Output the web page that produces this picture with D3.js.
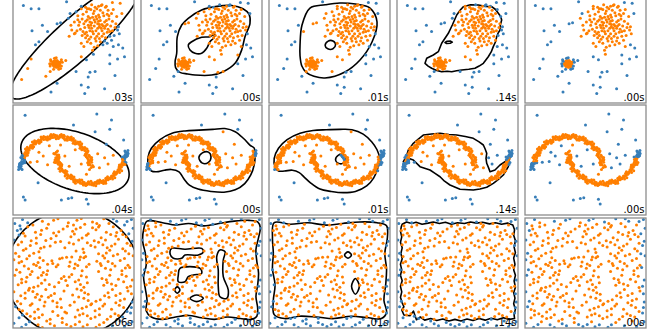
<!DOCTYPE html>
<html>
<head>
<meta charset="utf-8">
<script src="https://cdn.jsdelivr.net/npm/d3@7"></script>
<style>
  body { margin: 0; background: #fff; }
  svg { display: block; font-family: "DejaVu Sans", sans-serif; }
</style>
</head>
<body>
<svg id="chart" width="660" height="330"></svg>
<script>
// columns (titles are cut off in the picture) and fit times per panel
const methods = ['Robust covariance', 'One-Class SVM', 'One-Class SVM (SGD)', 'Isolation Forest', 'Local Outlier Factor'];
const fitTimes = [
  ['.03s', '.00s', '.01s', '.14s', '.00s'],
  ['.04s', '.00s', '.01s', '.14s', '.00s'],
  ['.06s', '.00s', '.01s', '.14s', '.00s']
];

// row 1: two blobs + uniform outliers
const blobBig = [
  [2.1,2.5],[2.8,3.1],[1.5,2.0],[3.3,2.2],[2.4,3.6],[1.2,3.1],[3.9,3.0],[2.0,1.4],[2.9,1.8],[1.7,4.0],
  [3.5,4.1],[0.8,2.4],[2.6,0.9],[4.2,2.1],[1.9,3.3],[3.0,2.7],[2.3,4.4],[1.0,1.6],[3.7,1.3],[4.5,3.4],
  [0.5,3.6],[2.7,5.0],[1.4,5.2],[3.3,5.5],[4.0,4.8],[0.2,1.9],[4.8,2.6],[1.6,0.8],[3.4,0.4],[2.2,-0.3],
  [0.9,0.6],[4.4,1.0],[5.0,4.0],[0.3,4.6],[2.5,5.2],[1.8,5.0],[3.8,5.3],[4.6,4.9],[-0.3,2.9],[-0.5,1.5],
  [5.3,1.8],[2.0,2.9],[2.6,2.2],[3.1,3.5],[1.3,2.6],[2.9,4.2],[3.6,2.5],[2.3,1.8],[1.8,1.1],[3.0,1.2],
  [1.1,4.3],[2.0,4.9],[4.1,3.7],[3.3,3.0],[2.5,3.3],[1.6,3.6],[4.3,2.8],[2.8,0.3],[0.6,2.9],[3.9,4.3],
  [1.9,2.2],[2.4,2.8],[3.5,1.8],[-0.2,2.3],[4.7,1.6],[2.1,5.5],[3.1,4.8],[1.3,1.8],[2.7,1.5],[3.8,3.5],
  [0.4,2.2],[1.5,4.6],[4.9,3.1],[2.9,5.3],[3.6,0.9],[1.2,0.2],[2.0,0.6],[0.1,3.3],[4.4,4.4],[3.2,5.4],
  [2.6,4.0],[1.7,2.9],[3.4,2.8],[2.2,3.9],[1.0,3.7],[3.0,3.9],[4.0,2.4],[2.5,1.2],[1.4,1.3],[3.3,1.5],
  [2.8,2.5],[1.9,3.8],[0.9,5.0],[3.7,5.2],[4.2,1.5],[0.1,1.8],[5.1,2.3],[2.3,-0.8],[-0.6,3.8],[4.6,0.2],
  [2.1,3.2],[3.6,3.3],[1.1,2.1],[2.7,3.7],[4.1,4.1],[1.6,1.6],[3.9,2.0],[2.4,0.1],[0.5,4.1],[3.4,4.5],
  [2.2,2.1],[3.2,2.5],[1.8,2.6],[2.9,3.4],[1.4,3.4],[3.7,2.8],[2.4,4.7],[0.7,3.3],[4.5,2.2],[3.1,0.8]
];
const blobSmall = [
  [-2.0,-2.0],[-1.8,-2.1],[-2.2,-1.9],[-1.9,-1.8],[-2.1,-2.2],[-2.3,-2.0],[-1.7,-1.9],[-2.0,-2.3],
  [-2.0,-1.7],[-1.85,-2.3],[-2.15,-1.75],[-2.35,-2.2],[-1.65,-2.15],[-2.4,-1.85],[-1.9,-1.6],
  [-2.25,-2.35],[-1.75,-1.75],[-2.05,-1.85],[-1.95,-2.15],[-2.2,-2.1],[-1.8,-1.95],[-2.1,-1.95],
  [-2.3,-1.7],[-1.6,-2.0],[-2.0,-2.45],[-1.7,-2.35],[-2.45,-2.05],[-1.55,-1.8],[-2.15,-1.6],[-1.85,-2.45],
  [-2.6,-1.7],[-1.4,-2.3],[-2.2,-1.3],[-1.7,-2.7],[-2.7,-2.3],[-1.3,-1.8],[-2.0,-1.25],[-2.3,-2.7],
  [-1.4,-1.5],[-2.65,-1.5],[-1.5,-2.6],[-2.75,-2.0]
];
const blobOutliers = [
  [-5.8,5.4],[-4.9,5.0],[-4.0,5.0],[-0.8,5.9],[0.9,5.3],[1.6,5.0],[5.4,5.7],[5.6,4.4],[5.2,2.7],
  [-3.6,2.9],[-1.9,3.1],[-1.5,3.2],[-4.8,2.2],[-3.0,2.1],[-4.0,0.8],[-4.4,0.4],[5.7,0.0],[5.2,0.4],
  [0.9,-1.1],[5.1,-1.4],[4.2,-0.9],[5.9,-1.1],[-4.9,-1.4],[4.2,-2.0],[0.3,-3.0],[1.9,-3.1],[2.5,-3.0],
  [1.7,-3.7],[0.9,-4.7],[1.7,-5.0],[-1.9,-4.5],[-2.6,-5.6],[1.3,-5.8],[-6.0,-4.0],[-2.7,-3.0],[3.9,0.6],
  [-0.9,-1.6],[-3.2,-3.6],[4.8,-3.5],[-5.3,-2.6],[3.6,-5.2],[1.5,-1.5],[3.0,3.0],[-0.4,4.4],[4.5,5.8]
];

// row 2: two moons + uniform outliers
const moonUpper = [
  [2.05,-0.95],[1.85,-1.2],[2.2,-0.7],[1.9,-0.6],[1.8,-0.4],[2.1,-0.3],[1.95,-0.05],[1.75,-0.2],
  [2.0,0.2],[1.7,0.05],[1.85,0.45],[1.6,0.3],[1.5,0.7],[1.8,0.6],[1.6,0.95],[1.4,0.8],[1.3,1.2],
  [1.5,1.05],[1.1,1.4],[1.35,1.5],[1.0,1.65],[1.2,1.5],[0.8,1.9],[0.95,1.7],[0.6,2.05],[0.75,1.85],
  [0.5,2.3],[0.35,2.1],[0.2,2.45],[0.3,2.2],[-0.05,2.55],[0.05,2.35],[-0.3,2.7],[-0.2,2.5],
  [-0.55,2.85],[-0.45,2.6],[-0.8,2.7],[-0.7,2.95],[-1.05,3.0],[-1.1,2.75],[-1.35,3.05],[-1.25,2.85],
  [-1.6,2.9],[-1.55,3.15],[-1.9,3.1],[-1.8,2.9],[-2.15,2.9],[-2.1,3.15],[-2.45,3.05],[-2.4,2.85],
  [-2.7,3.05],[-2.65,2.8],[-3.0,2.95],[-2.95,2.75],[-3.25,2.9],[-3.2,2.65],[-3.55,2.8],[-3.45,2.6],
  [-3.8,2.5],[-3.7,2.7],[-4.05,2.55],[-3.95,2.35],[-4.3,2.2],[-4.2,2.4],[-4.5,2.25],[-4.4,2.05],
  [-4.75,1.9],[-4.6,2.05],[-4.95,1.85],[-4.8,1.65],[-5.1,1.45],[-5.0,1.65],[-5.3,1.4],[-5.15,1.25],
  [-5.45,1.2],[-5.3,1.0],[-5.6,0.95],[-5.45,0.8],[-5.75,0.7],[-5.55,0.55],[-5.85,0.4],[-5.65,0.3],
  [-5.95,0.15],[-5.75,0.0],[-6.0,-0.2],[-5.85,-0.3],[-6.1,-0.5],[-5.9,-0.45],[-6.05,-0.75],[-6.25,-0.65],
  [-6.1,-1.05],[-5.95,-1.2],[-6.3,-0.9],[-6.2,-0.4],[-6.35,-1.2],
  [2.3,-0.85],[1.64,-0.36],[2.09,0.33],[1.33,0.62],[1.56,1.4],[0.75,1.48],[0.76,2.29],[-0.04,2.14],
  [-0.25,2.93],[-0.98,2.56],[-1.4,3.26],[-2.0,2.7],[-2.6,3.26],[-3.02,2.56],[-3.75,2.93],[-3.96,2.14],
  [-4.76,2.29],[-4.75,1.48],[-5.56,1.4],[-5.33,0.62],[-6.09,0.33],[-5.64,-0.36],[-6.3,-0.85],
  [1.73,-0.61],[2.12,0.03],[1.48,0.41],[1.68,1.13],[0.96,1.31],[0.95,2.06],[0.2,2.03],[-0.01,2.75],
  [-0.72,2.52],[-1.12,3.16],[-1.74,2.74],[-2.3,3.24],[-2.78,2.67],[-3.45,3.0],[-3.76,2.31],[-4.5,2.44],
  [-4.61,1.7],[-5.35,1.62],[-5.25,0.88],[-5.94,0.59],[-5.64,-0.09],[-6.23,-0.55]
];
const moonLower = [
  [-2.0,1.0],[-1.85,1.15],[-2.15,0.75],[-1.9,0.65],[-1.85,0.4],[-2.05,0.3],[-1.9,0.1],[-1.7,0.2],
  [-1.95,-0.15],[-1.75,-0.05],[-1.8,-0.4],[-1.6,-0.3],[-1.55,-0.7],[-1.75,-0.55],[-1.55,-0.9],[-1.4,-0.8],
  [-1.35,-1.15],[-1.45,-1.05],[-1.15,-1.4],[-1.3,-1.3],[-1.0,-1.6],[-1.15,-1.5],[-0.85,-1.85],[-0.95,-1.7],
  [-0.65,-2.0],[-0.7,-1.85],[-0.45,-2.25],[-0.35,-2.05],[-0.25,-2.4],[-0.3,-2.2],[0.0,-2.55],[-0.05,-2.35],
  [0.25,-2.65],[0.2,-2.5],[0.5,-2.8],[0.45,-2.6],[0.75,-2.75],[0.8,-2.95],[1.0,-3.0],[1.1,-2.8],
  [1.3,-3.05],[1.25,-2.85],[1.6,-2.95],[1.55,-3.15],[1.85,-3.1],[1.8,-2.9],[2.15,-2.95],[2.1,-3.15],
  [2.4,-3.05],[2.45,-2.85],[2.7,-3.0],[2.65,-2.8],[2.95,-2.95],[3.0,-2.75],[3.25,-2.85],[3.2,-2.7],
  [3.5,-2.8],[3.45,-2.6],[3.75,-2.55],[3.7,-2.75],[4.0,-2.5],[3.95,-2.35],[4.25,-2.25],[4.2,-2.4],
  [4.45,-2.2],[4.4,-2.05],[4.7,-1.95],[4.6,-2.0],[4.9,-1.8],[4.8,-1.65],[5.05,-1.5],[5.0,-1.65],
  [5.25,-1.35],[5.15,-1.25],[5.4,-1.15],[5.3,-1.0],[5.55,-0.9],[5.45,-0.8],[5.7,-0.65],[5.55,-0.55],
  [5.8,-0.35],[5.65,-0.3],[5.9,-0.1],[5.75,0.0],[5.95,0.2],[5.85,0.3],[6.05,0.45],[5.9,0.5],
  [6.0,0.7],[6.2,0.65],[6.05,1.0],[5.95,1.15],[6.25,0.9],[6.15,0.45],[6.3,1.2],
  [-2.28,0.82],[-1.66,0.38],[-2.07,-0.31],[-1.35,-0.6],[-1.54,-1.42],[-0.77,-1.46],[-0.74,-2.31],[0.06,-2.16],
  [0.23,-2.95],[0.96,-2.54],[1.42,-3.24],[2.02,-2.72],[2.58,-3.28],[3.04,-2.54],[3.73,-2.95],[3.94,-2.12],
  [4.78,-2.27],[4.73,-1.5],[5.58,-1.38],[5.31,-0.64],[6.07,-0.31],[5.62,0.38],[6.32,0.83],
  [-1.71,0.63],[-2.14,-0.01],[-1.46,-0.43],[-1.7,-1.11],[-0.94,-1.33],[-0.97,-2.04],[-0.18,-2.05],[0.03,-2.77],
  [0.7,-2.5],[1.14,-3.18],[1.72,-2.76],[2.32,-3.22],[2.8,-2.65],[3.47,-2.98],[3.74,-2.33],[4.52,-2.42],
  [4.63,-1.72],[5.33,-1.6],[5.27,-0.9],[5.96,-0.57],[5.66,0.07],[6.25,0.53]
];
const moonOutliers = [
  [-5.6,5.7],[2.7,5.85],[4.4,5.1],[0.0,4.45],[2.5,3.6],[4.2,3.9],[3.8,2.0],[5.8,2.55],
  [-4.1,-2.9],[-5.8,-4.7],[-5.6,-5.1],[-1.4,-5.1],[-0.6,-4.9],[-0.2,-4.8],[1.5,-5.0],[1.7,-5.6],
  [-3.5,0.5],[-4.2,-0.2],[-1.0,0.5],[0.2,1.3],[0.9,-0.5],[-0.5,-0.8],[1.5,-1.8],[3.0,-1.0],
  [4.0,-0.5],[2.8,0.8],[-2.8,1.8],[-1.5,1.9],[-3.0,-0.6],[3.6,0.3],[-0.3,-1.9],[-5.0,-0.3],
  [4.6,0.6],[-2.2,-0.3],[1.3,1.6],[-4.0,1.0]
];

// row 3: uniform square
const uniformPts = [
  [-6.8,6.3],[-5.9,6.8],[-4.7,6.1],[-3.6,6.6],[-2.9,6.2],[-1.8,6.9],[-0.6,6.4],[0.4,6.7],[1.3,6.2],
  [2.2,6.5],[3.5,6.9],[4.1,6.3],[5.0,6.6],[5.9,6.1],[6.7,6.8],[-6.2,6.0],[0.9,6.95],[3.0,6.05],
  [-5.3,6.4],[-2.3,6.7],[0.0,6.1],[2.7,6.3],[4.6,6.9],[6.2,6.55],
  [-6.5,5.4],[-5.3,5.9],[-4.4,5.2],[-3.1,5.7],[-2.3,5.1],[-1.2,5.6],[-0.1,5.3],[0.8,5.8],[1.7,5.0],
  [2.6,5.5],[3.8,5.2],[4.6,5.9],[5.5,5.4],[6.4,5.0],[-5.8,5.05],[-0.7,5.95],[2.9,5.85],[6.9,5.7],
  [-6.1,5.6],[-3.7,5.45],[-1.7,5.25],[0.3,5.6],[2.2,5.75],[5.0,5.15],
  [-6.9,4.2],[-5.6,4.7],[-4.9,4.1],[-3.8,4.9],[-2.6,4.4],[-1.5,4.0],[-0.3,4.6],[0.6,4.2],[1.5,4.8],
  [2.4,4.1],[3.2,4.5],[4.3,4.9],[5.2,4.3],[6.1,4.6],[6.8,4.05],[-3.2,4.15],[0.1,4.95],[4.9,4.7],
  [-6.3,4.85],[-4.3,4.45],[-2.0,4.75],[1.0,4.45],[3.7,4.2],[5.7,4.9],
  [-6.4,3.6],[-5.5,3.1],[-4.3,3.8],[-3.4,3.3],[-2.1,3.9],[-1.0,3.2],[0.0,3.7],[1.1,3.05],[2.0,3.5],
  [2.9,3.9],[3.9,3.2],[4.8,3.7],[5.7,3.1],[6.6,3.5],[-6.0,3.95],[-2.7,3.45],[1.6,3.85],[4.4,3.45],
  [-5.0,3.5],[-3.8,3.15],[-0.5,3.85],[2.5,3.3],[3.4,3.6],[6.2,3.8],
  [-6.7,2.5],[-5.8,2.9],[-5.1,2.2],[-4.0,2.7],[-3.9,1.95],[-1.6,1.8],[-0.8,2.0],[0.3,2.8],[1.4,2.1],
  [1.2,2.6],[3.4,2.2],[4.2,2.9],[5.1,2.4],[6.0,2.8],[6.9,2.2],[-2.5,1.55],[0.8,2.05],[3.8,2.55],
  [-6.3,2.1],[-4.6,2.5],[-0.2,2.05],[2.9,2.45],[4.6,2.2],[6.4,2.45],
  [-6.3,1.3],[-5.4,1.8],[-4.6,1.1],[-3.5,1.6],[-2.4,1.2],[-1.3,1.9],[-0.4,1.4],[0.7,1.7],[1.8,1.1],
  [2.7,1.5],[3.6,1.9],[4.5,1.2],[5.4,1.6],[6.3,1.0],[-6.9,1.7],[-1.8,1.05],[1.2,1.95],[4.0,1.45],
  [-6.0,1.45],[-4.1,1.35],[-3.0,1.1],[0.2,1.15],[3.1,1.2],[5.9,1.85],
  [-6.6,0.4],[-5.7,0.9],[-4.8,0.2],[-3.9,0.7],[-3.0,0.3],[-2.0,0.8],[-1.1,-0.45],[0.1,0.6],[1.0,0.3],
  [1.5,0.8],[2.9,0.2],[3.7,0.6],[4.8,0.9],[5.6,0.3],[6.5,0.7],[-4.3,0.95],[-0.5,0.85],[3.2,0.95],
  [-6.2,0.1],[-5.2,0.55],[-3.5,0.05],[0.5,0.95],[4.3,0.4],[6.0,0.65],
  [-6.8,-0.3],[-6.0,-0.8],[-5.0,-0.2],[-4.1,-0.6],[-3.3,-0.9],[-3.1,-0.2],[-1.4,-0.7],[-0.2,-0.2],
  [0.6,-0.9],[1.5,-0.5],[3.3,-0.7],[4.2,-0.3],[5.2,-0.8],[6.1,-0.4],[6.8,-0.9],[-0.9,-0.95],
  [-5.4,-0.55],[-3.7,-0.3],[0.9,-0.35],[3.8,-0.85],[5.6,-0.2],[-0.5,-0.5],
  [-6.4,-1.5],[-5.5,-1.1],[-4.6,-1.8],[-3.7,-1.3],[-2.8,-1.45],[-1.7,-1.2],[-0.7,-1.6],[0.2,-1.1],
  [1.2,-1.8],[3.9,-1.2],[4.9,-1.6],[5.8,-1.1],[6.6,-1.7],[-5.1,-1.95],[0.8,-1.45],[3.5,-1.55],
  [-6.0,-1.25],[-4.1,-1.65],[-2.2,-1.75],[1.6,-1.25],[4.4,-1.4],[6.2,-1.85],
  [-6.9,-2.4],[-6.1,-2.9],[-5.2,-2.2],[-4.2,-2.7],[-3.2,-2.1],[-2.2,-2.6],[-1.1,-2.3],[-0.1,-2.8],
  [0.9,-2.2],[1.7,-2.7],[3.6,-2.9],[4.5,-2.1],[5.4,-2.6],[6.3,-2.3],[-3.7,-2.95],[0.4,-2.05],[4.0,-2.5],
  [-5.6,-2.55],[-4.7,-2.35],[-2.6,-2.85],[1.3,-2.5],[4.9,-2.85],[6.7,-2.65],
  [-6.5,-3.6],[-5.6,-3.2],[-4.8,-3.9],[-3.9,-3.4],[-2.9,-3.1],[-1.9,-3.8],[-1.5,-3.3],[0.1,-3.7],
  [1.2,-3.2],[2.1,-3.9],[3.1,-3.4],[4.1,-3.1],[4.9,-3.8],[5.9,-3.3],[6.8,-3.7],[-2.4,-3.55],[0.6,-3.05],[3.6,-3.95],
  [-6.1,-3.9],[-4.4,-3.1],[-3.3,-3.7],[1.7,-3.5],[2.6,-3.6],[5.4,-3.5],
  [-6.7,-4.3],[-5.9,-4.8],[-5.0,-4.1],[-4.1,-4.6],[-3.4,-4.2],[-2.4,-4.9],[-1.4,-4.4],[-0.4,-4.1],
  [0.5,-4.7],[1.5,-4.3],[2.5,-4.8],[3.4,-4.2],[4.4,-4.6],[5.3,-4.1],[6.2,-4.9],[-1.0,-4.95],[2.0,-4.05],[6.7,-4.4],
  [-6.3,-4.65],[-4.5,-4.95],[-1.9,-4.3],[1.0,-4.5],[3.0,-4.55],[5.8,-4.4],
  [-6.3,-5.7],[-5.4,-5.2],[-4.5,-5.8],[-3.6,-5.3],[-2.7,-5.9],[-1.8,-5.4],[-0.8,-5.1],[0.2,-5.6],
  [1.1,-5.2],[2.0,-5.8],[3.0,-5.3],[3.9,-5.9],[4.8,-5.2],[5.7,-5.6],[6.6,-5.1],[-5.0,-5.5],[1.6,-5.45],[4.3,-5.55],
  [-5.9,-5.35],[-4.0,-5.65],[-1.3,-5.75],[0.7,-5.35],[2.5,-5.6],[5.2,-5.4],
  [-6.9,-6.4],[-6.0,-6.9],[-5.1,-6.2],[-4.1,-6.6],[-3.1,-6.1],[-2.2,-6.7],[-1.3,-6.3],[-0.3,-6.8],
  [0.7,-6.2],[1.6,-6.6],[2.6,-6.9],[3.5,-6.3],[4.5,-6.7],[5.4,-6.1],[6.3,-6.5],[-3.6,-6.95],[0.2,-6.55],[5.9,-6.85],
  [-5.5,-6.55],[-2.7,-6.45],[-0.8,-6.55],[1.1,-6.85],[3.0,-6.6],[6.8,-6.2]
];

const rowData = [
  blobBig.concat(blobSmall, blobOutliers),
  moonUpper.concat(moonLower, moonOutliers),
  uniformPts
];

// decision boundaries (data units), one per panel; LOF has none drawn
const boundaries = [
  [
    { ellipse: { cx: 0.28, cy: 1.13, rx: 10.5, ry: 2.5, rot: 45 } },
    { outer: [[0.02,4.84],[1.8,5.3],[3.49,5.4],[4.8,5.0],[5.5,4.3],[5.61,3.14],[5.03,1.44],[4.65,-0.25],[3.88,-1.95],
              [2.52,-3.02],[1.18,-3.44],[-0.75,-3.44],[-1.6,-3.3],[-2.5,-3.1],[-3.0,-2.5],[-3.05,-1.7],[-2.87,-0.67],
              [-2.8,1.44],[-2.29,2.93],[-1.53,3.78]],
      holes: [[[-1.13,0.8],[0.02,1.36],[0.98,1.44],[1.56,1.74],[1.37,1.23],[0.98,0.8],[0.6,-0.04],[0.02,-0.67],
               [-0.75,-0.67],[-1.33,-0.25],[-1.53,0.38]]] },
    { outer: [[-2.26,5.09],[-0.5,5.5],[1.21,5.73],[3.0,5.6],[4.69,5.09],[5.5,3.31],[4.92,0.76],[3.53,-1.53],[1.79,-3.05],
              [-0.52,-3.82],[-1.8,-3.6],[-2.7,-3.1],[-3.2,-2.3],[-3.41,-1.0],[-3.41,0.38],[-3.18,2.93]],
      holes: [[[-0.5,0.3],[-0.2,0.85],[0.4,0.9],[0.7,0.4],[0.4,-0.1],[-0.2,-0.1]]] },
    { jagged: true,
      outer: [[0.67,5.26],[1.5,5.5],[2.41,5.47],[3.2,5.3],[3.96,5.26],[4.4,4.9],[4.72,4.42],[5.0,4.0],[5.11,3.56],
              [4.95,2.9],[4.92,2.29],[4.7,1.9],[4.54,1.44],[4.4,0.8],[4.14,0.17],[3.9,-0.5],[3.56,-1.11],[3.3,-1.5],
              [2.99,-1.95],[2.5,-2.3],[2.02,-2.58],[1.3,-2.7],[0.49,-2.8],[-0.1,-2.9],[-0.67,-3.02],[-1.2,-2.95],
              [-1.83,-3.02],[-2.4,-2.85],[-2.99,-2.58],[-3.4,-2.3],[-3.76,-1.95],[-3.56,-1.31],[-2.8,-0.89],
              [-2.22,-0.47],[-1.83,0.6],[-1.06,1.87],[-0.6,2.93],[-0.09,4.2],[0.3,4.8]],
      holes: [[[-1.45,0.7],[-1.2,0.85],[-0.8,0.88],[-0.6,0.75],[-0.85,0.6],[-1.25,0.58]]] },
    { hidden: true, any: [{ ellipse: { cx: 2.45, cy: 2.5, rx: 3.3, ry: 3.5, rot: 0 } },
                          { ellipse: { cx: -2.0, cy: -2.0, rx: 0.52, ry: 0.52, rot: 0 } }] }
  ],
  [
    { ellipse: { cx: 0.17, cy: -0.13, rx: 6.6, ry: 3.6, rot: -22 } },
    { outer: [[-6.1,-0.9],[-6.2,0.3],[-5.8,1.5],[-4.8,2.6],[-3.4,3.4],[-1.9,3.7],[-0.3,3.8],[1.3,3.9],[2.7,4.0],
              [3.9,3.6],[4.9,2.7],[5.6,1.9],[6.1,1.5],[6.2,0.6],[6.1,-0.6],[5.7,-1.9],[5.0,-3.0],[3.9,-3.8],
              [2.6,-4.1],[1.1,-4.0],[-0.4,-3.7],[-1.4,-3.2],[-2.1,-2.3],[-2.6,-1.5],[-3.5,-1.2],[-4.3,-1.3],
              [-5.2,-1.5],[-5.8,-1.4]],
      holes: [[[-0.3,0.3],[0.1,0.9],[0.8,1.0],[1.1,0.4],[0.8,-0.3],[0.1,-0.4]]] },
    { outer: [[-6.3,-0.9],[-6.4,0.2],[-5.9,1.5],[-4.9,2.6],[-3.4,3.4],[-1.9,3.75],[-0.4,3.85],[1.2,3.9],[2.6,3.85],
              [3.9,3.3],[4.9,2.3],[5.5,1.3],[5.8,0.2],[5.6,-1.0],[5.1,-2.3],[4.3,-3.3],[3.0,-4.0],[1.6,-4.15],
              [0.2,-4.0],[-1.1,-3.7],[-2.2,-2.9],[-2.9,-2.2],[-3.5,-1.6],[-4.3,-1.3],[-5.2,-1.4],[-5.9,-1.4]],
      holes: [[[0.7,0.0],[1.0,0.6],[1.6,0.7],[1.9,0.2],[1.6,-0.4],[1.0,-0.4]]] },
    { jagged: true,
      outer: [[-6.27,-0.22],[-5.9,0.5],[-5.69,1.27],[-5.4,1.7],[-5.11,2.13],[-4.6,2.6],[-3.96,3.18],[-3.0,3.3],
              [-2.02,3.4],[-1.0,3.25],[-0.09,3.18],[0.9,3.0],[1.83,2.76],[2.5,2.3],[2.99,1.91],[3.2,1.4],[3.38,0.85],
              [3.3,0.2],[3.38,-0.42],[3.6,-1.0],[3.76,-1.49],[4.34,-1.27],[4.92,-0.64],[5.5,-0.22],[5.88,0.22],
              [6.1,0.6],[5.95,-0.3],[5.88,-0.85],[5.3,-1.91],[4.7,-2.5],[4.14,-2.97],[3.38,-3.47],[2.6,-3.7],
              [1.83,-3.82],[0.29,-3.73],[-0.87,-3.18],[-1.5,-2.7],[-2.02,-2.13],[-2.6,-1.7],[-3.18,-1.27],
              [-4.34,-0.85],[-5.11,0.0],[-5.69,0.22],[-6.07,-0.64]],
      holes: [] },
    { hidden: true, any: [{ band: { cx: -2, cy: -1, r0: 3.3, r1: 4.7, a0: -20, a1: 170 } },
                          { band: { cx: 2, cy: 1, r0: 3.3, r1: 4.7, a0: 160, a1: 350 } }] }
  ],
  [
    { ellipse: { cx: -0.1, cy: 0, rx: 7.7, ry: 8.0, rot: 0 } },
    { outer: [[-6.3,6.6],[-4.5,6.4],[-3,6.1],[-1.5,6.3],[0.3,6.0],[2,6.3],[3.8,6.6],[5.5,6.7],[6.5,6.5],[6.8,5.8],
              [6.6,4.5],[6.3,3],[6.4,1.5],[6.6,0],[6.5,-1.5],[6.3,-3],[6.5,-4.5],[6.4,-5.5],[5.8,-5.9],[4.5,-5.8],
              [3,-5.6],[1.5,-5.9],[0,-5.7],[-1.5,-5.4],[-3,-5.6],[-4.5,-5.9],[-5.8,-5.6],[-6.4,-4.8],[-6.3,-3.5],
              [-6.5,-2],[-6.7,-0.5],[-6.4,1],[-6.5,2.5],[-6.8,4],[-6.7,5.5]],
      holes: [
        [[-3.45,3.14],[-1.91,3.02],[0.02,3.14],[0.21,2.71],[-0.37,2.29],[-1.91,2.29],[-2.29,1.87],[-3.26,1.87],[-3.64,2.51]],
        [[-2.49,0.6],[-0.17,0.6],[0.02,-0.04],[-0.95,-0.25],[-1.53,-0.47],[-1.91,-1.11],[-2.68,-1.11],[-2.68,-0.25]],
        [[2.14,2.93],[2.72,2.71],[2.52,1.65],[2.52,-0.47],[3.1,-2.16],[2.92,-3.22],[2.14,-3.02],[1.94,-1.74],[1.94,0.38],[1.76,2.07]],
        [[-2.8,-1.76],[-2.5,-2.16],[-2.8,-2.56],[-3.1,-2.16]],
        [[-1.33,-3.22],[-0.56,-2.8],[0.21,-3.22],[-0.56,-3.64]]
      ] },
    { outer: [[-6.4,6.4],[-4.5,6.2],[-2.5,6.4],[-0.5,6.1],[1.5,6.3],[3.5,6.5],[5.5,6.4],[6.6,6.0],[6.7,4.5],[6.4,2.5],
              [6.6,0.5],[6.5,-1.5],[6.3,-3.5],[6.6,-5.0],[6.0,-5.8],[4.5,-5.7],[2.5,-5.5],[0.5,-5.8],[-1.5,-5.6],
              [-3.5,-5.5],[-5.2,-5.8],[-6.4,-5.3],[-6.5,-3.5],[-6.3,-1.5],[-6.6,0.5],[-6.5,2.5],[-6.6,4.5]],
      holes: [
        [[1.74,2.29],[2.14,2.69],[2.54,2.29],[2.14,1.89]],
        [[3.0,-0.7],[3.45,-1.7],[3.0,-2.7],[2.55,-1.7]]
      ] },
    { jagged: true,
      outer: [[-6.4,6.2],[-5.9,6.5],[-5.3,6.3],[-4.8,6.45],[-4.1,6.2],[-3.4,6.35],[-2.8,6.5],[-2.1,6.3],[-1.4,6.45],
              [-0.7,6.2],[0.0,6.4],[0.8,6.3],[1.5,6.5],[2.2,6.35],[2.9,6.45],[3.7,6.25],[4.4,6.4],[5.1,6.2],[5.8,6.35],
              [6.4,6.1],[6.6,5.5],[6.5,4.8],[6.7,4.1],[6.55,3.3],[6.7,2.6],[6.5,1.9],[6.65,1.1],[6.5,0.4],[6.7,-0.3],
              [6.55,-1.0],[6.7,-1.8],[6.5,-2.5],[6.65,-3.2],[6.5,-3.9],[6.7,-4.6],[6.55,-5.3],[6.6,-5.8],[6.0,-5.9],
              [5.3,-5.7],[4.6,-5.95],[3.9,-5.75],[3.2,-6.0],[2.5,-5.8],[1.8,-6.05],[1.1,-5.85],[0.4,-6.1],[-0.3,-5.9],
              [-1.0,-6.1],[-1.7,-5.85],[-2.4,-6.05],[-3.1,-5.8],[-3.8,-6.0],[-4.3,-5.6],[-4.75,-5.95],[-5.1,-4.85],
              [-5.5,-5.45],[-6.2,-5.35],[-6.45,-4.7],[-6.2,-4.3],[-6.4,-3.8],[-6.6,-3.1],[-6.45,-2.4],[-6.6,-1.7],
              [-6.4,-1.0],[-6.6,-0.3],[-6.45,0.4],[-6.6,1.1],[-6.4,1.8],[-6.55,2.5],[-6.4,3.2],[-6.6,3.9],
              [-6.45,4.6],[-6.6,5.3],[-6.5,5.9]],
      holes: [] },
    { hidden: true, outer: [[-6.4,6.5],[6.4,6.5],[6.4,-6.35],[-6.4,-6.35]], holes: [] }
  ]
];

const colLeft = [13, 141, 269, 397, 525];
const rowTop = [-7, 105, 218];
const pw = 121, ph = 110;
const inlierColor = '#ff7f00', outlierColor = '#377eb8';

function inEllipse(p, e) {
  const a = e.rot * Math.PI / 180;
  const dx = p[0] - e.cx, dy = p[1] - e.cy;
  const u = dx * Math.cos(a) + dy * Math.sin(a);
  const v = -dx * Math.sin(a) + dy * Math.cos(a);
  return (u / e.rx) ** 2 + (v / e.ry) ** 2 <= 1;
}

function inBand(p, b) {
  const dx = p[0] - b.cx, dy = p[1] - b.cy;
  const r = Math.hypot(dx, dy);
  const ang = Math.atan2(dy, dx) * 180 / Math.PI;
  const rel = ((ang - b.a0) % 360 + 360) % 360;
  return r >= b.r0 && r <= b.r1 && rel <= b.a1 - b.a0;
}

function inRegion(p, reg) {
  if (reg.ellipse) return inEllipse(p, reg.ellipse);
  if (reg.band) return inBand(p, reg.band);
  if (reg.any) return reg.any.some(q => inRegion(p, q));
  return d3.polygonContains(reg.outer, p) && !reg.holes.some(h => d3.polygonContains(h, p));
}

function ellipseRing(e) {
  const a = e.rot * Math.PI / 180;
  return d3.range(0, 360, 3).map(t => {
    const th = t * Math.PI / 180;
    const u = e.rx * Math.cos(th), v = e.ry * Math.sin(th);
    return [e.cx + u * Math.cos(a) - v * Math.sin(a), e.cy + u * Math.sin(a) + v * Math.cos(a)];
  });
}

const svg = d3.select('#chart');
const defs = svg.append('defs');

rowData.forEach((pts, r) => {
  methods.forEach((m, c) => {
    const left = colLeft[c], top = rowTop[r];
    const x = d3.scaleLinear().domain([-7, 7]).range([left, left + pw]);
    const y = d3.scaleLinear().domain([-7, 7]).range([top + ph, top]);
    const reg = boundaries[r][c];
    const id = `clip-${r}-${c}`;

    defs.append('clipPath').attr('id', id)
      .append('rect').attr('x', left).attr('y', top).attr('width', pw).attr('height', ph);

    const g = svg.append('g').attr('class', 'panel');
    g.append('rect').attr('x', left).attr('y', top).attr('width', pw).attr('height', ph).attr('fill', '#fff');

    const inner = g.append('g').attr('clip-path', `url(#${id})`);

    if (!reg.hidden) {
      const line = d3.line().x(d => x(d[0])).y(d => y(d[1]))
        .curve(reg.ellipse || reg.jagged ? d3.curveLinearClosed : d3.curveCatmullRomClosed);
      const rings = reg.ellipse ? [ellipseRing(reg.ellipse)] : [reg.outer].concat(reg.holes);
      inner.selectAll('path.boundary').data(rings).enter().append('path')
        .attr('class', 'boundary')
        .attr('d', line)
        .attr('fill', 'none')
        .attr('stroke', '#000')
        .attr('stroke-width', 1.6)
        .attr('stroke-linejoin', 'round');
    }

    inner.selectAll('circle').data(pts).enter().append('circle')
      .attr('cx', d => x(d[0]))
      .attr('cy', d => y(d[1]))
      .attr('r', 1.5)
      .attr('fill', d => inRegion(d, reg) ? inlierColor : outlierColor);

    g.append('rect').attr('x', left).attr('y', top).attr('width', pw).attr('height', ph)
      .attr('fill', 'none').attr('stroke', '#8c8c8c').attr('stroke-width', 1.3);

    g.append('text')
      .attr('x', left + pw - 1.5)
      .attr('y', top + ph - 2)
      .attr('text-anchor', 'end')
      .attr('font-size', 10)
      .attr('fill', '#000')
      .text(fitTimes[r][c]);
  });
});
</script>
</body>
</html>
